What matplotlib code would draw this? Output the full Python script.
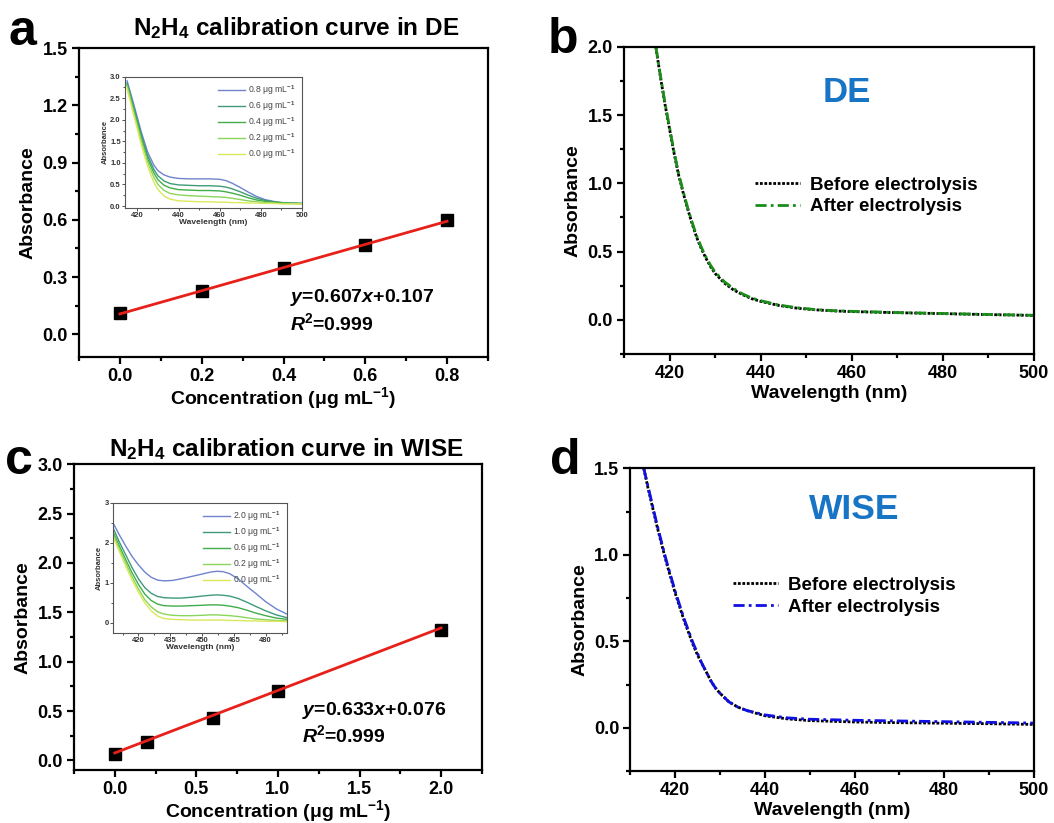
import numpy as np
import matplotlib
matplotlib.use("Agg")
import matplotlib.pyplot as plt
from matplotlib.ticker import MultipleLocator, FormatStrFormatter

plt.rcParams['font.family'] = ['Liberation Sans', 'DejaVu Sans']
plt.rcParams['mathtext.fontset'] = 'custom'
plt.rcParams['mathtext.rm'] = 'Liberation Sans'
plt.rcParams['mathtext.bf'] = 'Liberation Sans:bold'
plt.rcParams['mathtext.it'] = 'Liberation Sans:italic'
plt.rcParams['mathtext.bfit'] = 'Liberation Sans:bold:italic'

# calibration points
conc_de = [0.0, 0.2, 0.4, 0.6, 0.8]
abs_de = [0.110, 0.225, 0.345, 0.470, 0.600]
slope_de, icpt_de = 0.607, 0.107

conc_wise = [0.0, 0.2, 0.6, 1.0, 2.0]
abs_wise = [0.065, 0.185, 0.425, 0.700, 1.320]
slope_wise, icpt_wise = 0.633, 0.076

# inset spectra (a)
wl_ia = [415, 418, 420, 422, 425, 428, 430, 433, 436, 440, 445, 450, 455, 460, 463, 466, 470, 474, 478, 482, 486, 490, 495, 500]
ia_labels = ['0.8 μg mL$^{\\mathbf{-1}}$', '0.6 μg mL$^{\\mathbf{-1}}$', '0.4 μg mL$^{\\mathbf{-1}}$',
             '0.2 μg mL$^{\\mathbf{-1}}$', '0.0 μg mL$^{\\mathbf{-1}}$']
ia_08 = [2.90, 2.40, 2.05, 1.70, 1.25, 0.95, 0.82, 0.72, 0.67, 0.64, 0.63, 0.63, 0.63, 0.62, 0.59, 0.53, 0.43, 0.32, 0.22, 0.15, 0.11, 0.08, 0.07, 0.06]
ia_06 = [2.85, 2.33, 1.98, 1.63, 1.17, 0.85, 0.70, 0.58, 0.52, 0.49, 0.48, 0.47, 0.47, 0.46, 0.44, 0.40, 0.33, 0.25, 0.18, 0.13, 0.10, 0.08, 0.07, 0.06]
ia_04 = [2.82, 2.28, 1.93, 1.57, 1.10, 0.77, 0.61, 0.48, 0.42, 0.38, 0.37, 0.36, 0.36, 0.35, 0.33, 0.30, 0.25, 0.19, 0.14, 0.11, 0.09, 0.07, 0.06, 0.06]
ia_02 = [2.78, 2.22, 1.86, 1.50, 1.02, 0.67, 0.50, 0.36, 0.29, 0.26, 0.24, 0.23, 0.22, 0.21, 0.20, 0.18, 0.15, 0.12, 0.10, 0.08, 0.07, 0.06, 0.06, 0.05]
ia_00 = [2.72, 2.15, 1.78, 1.40, 0.92, 0.55, 0.38, 0.23, 0.16, 0.12, 0.11, 0.10, 0.10, 0.09, 0.09, 0.08, 0.08, 0.07, 0.07, 0.06, 0.06, 0.05, 0.05, 0.05]

# inset spectra (c)
wl_ic = [408, 411, 414, 417, 420, 423, 426, 429, 432, 436, 440, 445, 450, 454, 457, 460, 463, 467, 471, 475, 480, 485, 490]
ic_labels = ['2.0 μg mL$^{\\mathbf{-1}}$', '1.0 μg mL$^{\\mathbf{-1}}$', '0.6 μg mL$^{\\mathbf{-1}}$',
             '0.2 μg mL$^{\\mathbf{-1}}$', '0.0 μg mL$^{\\mathbf{-1}}$']
ic_20 = [2.50, 2.20, 1.92, 1.66, 1.45, 1.27, 1.14, 1.07, 1.05, 1.06, 1.10, 1.16, 1.22, 1.27, 1.29, 1.28, 1.23, 1.10, 0.92, 0.75, 0.53, 0.35, 0.22]
ic_10 = [2.38, 2.02, 1.70, 1.38, 1.10, 0.88, 0.74, 0.66, 0.63, 0.62, 0.62, 0.64, 0.67, 0.69, 0.70, 0.69, 0.67, 0.61, 0.52, 0.42, 0.30, 0.20, 0.13]
ic_06 = [2.28, 1.92, 1.58, 1.25, 0.96, 0.72, 0.56, 0.47, 0.43, 0.42, 0.42, 0.43, 0.44, 0.45, 0.45, 0.44, 0.42, 0.38, 0.32, 0.25, 0.18, 0.12, 0.09]
ic_02 = [2.22, 1.85, 1.50, 1.15, 0.85, 0.58, 0.40, 0.28, 0.22, 0.19, 0.18, 0.18, 0.19, 0.20, 0.20, 0.19, 0.18, 0.16, 0.13, 0.10, 0.08, 0.06, 0.05]
ic_00 = [2.16, 1.78, 1.42, 1.07, 0.77, 0.50, 0.30, 0.17, 0.11, 0.09, 0.08, 0.07, 0.07, 0.07, 0.07, 0.07, 0.06, 0.06, 0.05, 0.05, 0.04, 0.04, 0.03]

inset_colors = ['#6f83cf', '#3f9a78', '#41ad4a', '#8ad65a', '#dbe85a']

# electrolysis spectra
wl_b = [417, 418, 419, 420, 421, 422, 423, 424, 425, 426, 427, 428, 429, 430, 432, 434, 436, 438, 440, 444, 448, 452, 456, 460, 470, 480, 490, 500]
de_before = [2.00, 1.78, 1.58, 1.40, 1.22, 1.06, 0.93, 0.81, 0.70, 0.60, 0.52, 0.45, 0.39, 0.34, 0.27, 0.22, 0.185, 0.155, 0.135, 0.105, 0.085, 0.073, 0.065, 0.060, 0.052, 0.045, 0.038, 0.032]
de_after = [2.00, 1.79, 1.59, 1.41, 1.23, 1.07, 0.94, 0.82, 0.71, 0.61, 0.53, 0.46, 0.40, 0.35, 0.28, 0.23, 0.19, 0.16, 0.14, 0.108, 0.088, 0.075, 0.067, 0.062, 0.053, 0.046, 0.039, 0.033]

wl_d = [413, 414, 415, 416, 417, 418, 419, 420, 421, 422, 423, 424, 425, 426, 427, 428, 429, 430, 432, 434, 436, 438, 440, 445, 450, 460, 470, 480, 490, 500]
wise_before = [1.50, 1.38, 1.27, 1.16, 1.06, 0.96, 0.87, 0.78, 0.70, 0.62, 0.55, 0.48, 0.42, 0.37, 0.32, 0.27, 0.23, 0.20, 0.15, 0.12, 0.10, 0.085, 0.070, 0.052, 0.042, 0.034, 0.030, 0.027, 0.024, 0.020]
wise_after = [1.50, 1.39, 1.28, 1.17, 1.07, 0.97, 0.88, 0.79, 0.71, 0.63, 0.56, 0.49, 0.43, 0.37, 0.32, 0.27, 0.23, 0.20, 0.15, 0.12, 0.10, 0.088, 0.075, 0.058, 0.050, 0.044, 0.040, 0.036, 0.032, 0.028]

fig = plt.figure(figsize=(10.54, 8.23), dpi=100)


def style_axes(ax, fs=13, lw=1.6, ml=5):
    for s in ax.spines.values():
        s.set_linewidth(lw)
    ax.tick_params(which='major', direction='out', length=ml, width=lw, labelsize=fs,
                   top=False, right=False, pad=3)
    ax.tick_params(which='minor', direction='out', length=ml * 0.6, width=lw, top=False, right=False)
    for lab in ax.get_xticklabels() + ax.get_yticklabels():
        lab.set_fontweight('bold')


def calib_panel(rect, x, y, slope, icpt, xlim, ylim, xmaj, ymaj, eq_pos):
    ax = fig.add_axes(rect)
    ax.plot(x, y, 's', color='black', markersize=9, zorder=3)
    xf = np.array([x[0], x[-1]])
    ax.plot(xf, slope * xf + icpt, color='#e8201a', lw=2, zorder=4)
    ax.set_xlim(xlim)
    ax.set_ylim(ylim)
    ax.xaxis.set_major_locator(MultipleLocator(xmaj))
    ax.xaxis.set_minor_locator(MultipleLocator(xmaj / 2))
    ax.yaxis.set_major_locator(MultipleLocator(ymaj))
    ax.yaxis.set_minor_locator(MultipleLocator(ymaj / 2))
    ax.xaxis.set_major_formatter(FormatStrFormatter('%.1f'))
    ax.yaxis.set_major_formatter(FormatStrFormatter('%.1f'))
    style_axes(ax)
    ax.set_xlabel('Concentration (μg mL$^{\\mathbf{-1}}$)', fontsize=14, fontweight='bold', labelpad=0)
    ax.set_ylabel('Absorbance', fontsize=14, fontweight='bold', labelpad=4)
    ax.text(eq_pos[0], eq_pos[1], '$\\mathbfit{y}$=%.3f$\\mathbfit{x}$+%.3f' % (slope, icpt),
            transform=ax.transAxes, fontsize=14, fontweight='bold')
    ax.text(eq_pos[0], eq_pos[1] - 0.091, '$\\mathbfit{R}^{\\mathbf{2}}$=0.999',
            transform=ax.transAxes, fontsize=14, fontweight='bold')
    return ax


def inset_panel(rect, wl, curves, labels, xlim, ylim, xticks, yticks, yfmt):
    ax = fig.add_axes(rect)
    for c, lab, col in zip(curves, labels, inset_colors):
        ax.plot(wl, c, color=col, lw=1.0, label=lab)
    ax.set_xlim(xlim)
    ax.set_ylim(ylim)
    ax.set_xticks(xticks)
    ax.set_yticks(yticks)
    ax.yaxis.set_major_formatter(FormatStrFormatter(yfmt))
    ax.xaxis.set_minor_locator(MultipleLocator((xticks[1] - xticks[0]) / 2))
    ax.yaxis.set_minor_locator(MultipleLocator((yticks[1] - yticks[0]) / 2))
    for s in ax.spines.values():
        s.set_linewidth(0.8)
        s.set_color('#555555')
    ax.tick_params(which='both', direction='out', length=2, width=0.6, labelsize=5.5,
                   pad=1, colors='#333333')
    ax.tick_params(which='minor', length=1.2)
    for lab in ax.get_xticklabels() + ax.get_yticklabels():
        lab.set_fontweight('bold')
    ax.set_xlabel('Wavelength (nm)', fontsize=6, fontweight='bold', labelpad=0, color='#333333')
    ax.set_ylabel('Absorbance', fontsize=5.5, fontweight='bold', labelpad=1, color='#333333')
    leg = ax.legend(loc='upper right', frameon=False, fontsize=6.2, handlelength=3.2,
                    handletextpad=0.3, labelspacing=0.25, borderaxespad=0.4)
    for t in leg.get_texts():
        t.set_color('#444444')
    return ax


def spec_panel(rect, wl, before, after, col, ylim, ymaj, name, name_pos, name_fs, leg_anchor):
    ax = fig.add_axes(rect)
    ax.plot(wl, before, color='black', lw=2, ls=(0, (1, 0.6)), label='Before electrolysis')
    ax.plot(wl, after, color=col, lw=2, ls=(0, (4, 1.5, 1, 1.5)), label='After electrolysis')
    ax.set_xlim(410, 500)
    ax.set_ylim(ylim)
    ax.xaxis.set_major_locator(MultipleLocator(20))
    ax.xaxis.set_minor_locator(MultipleLocator(10))
    ax.yaxis.set_major_locator(MultipleLocator(ymaj))
    ax.yaxis.set_minor_locator(MultipleLocator(ymaj / 2))
    ax.yaxis.set_major_formatter(FormatStrFormatter('%.1f'))
    style_axes(ax)
    ax.set_xlabel('Wavelength (nm)', fontsize=14, fontweight='bold', labelpad=2)
    ax.set_ylabel('Absorbance', fontsize=14, fontweight='bold', labelpad=4)
    ax.text(name_pos[0], name_pos[1], name, transform=ax.transAxes, fontsize=name_fs,
            fontweight='bold', color='#1874c4', ha='center', va='center')
    leg = ax.legend(loc='upper left', bbox_to_anchor=leg_anchor, frameon=False, fontsize=13.5,
                    handlelength=2.4, handletextpad=0.5, labelspacing=0.25, borderpad=0,
                    borderaxespad=0)
    for t in leg.get_texts():
        t.set_fontweight('bold')
    return ax


calib_panel([0.075, 0.566, 0.388, 0.3755], conc_de, abs_de, slope_de, icpt_de,
            (-0.1, 0.9), (-0.12, 1.5), 0.2, 0.3, (0.516, 0.178))
inset_panel([0.1186, 0.747, 0.168, 0.160], wl_ia, [ia_08, ia_06, ia_04, ia_02, ia_00], ia_labels,
            (414, 500), (-0.05, 3.0), [420, 440, 460, 480, 500], [0, 0.5, 1.0, 1.5, 2.0, 2.5, 3.0], '%.1f')

calib_panel([0.0702, 0.064, 0.387, 0.372], conc_wise, abs_wise, slope_wise, icpt_wise,
            (-0.25, 2.25), (-0.1, 3.0), 0.5, 0.5, (0.559, 0.182))
inset_panel([0.1072, 0.231, 0.165, 0.158], wl_ic, [ic_20, ic_10, ic_06, ic_02, ic_00], ic_labels,
            (408, 490), (-0.25, 3.0), [420, 435, 450, 465, 480], [0, 1, 2, 3], '%d')

spec_panel([0.592, 0.570, 0.389, 0.373], wl_b, de_before, de_after, '#1a8c1a',
           (-0.25, 2.0), 0.5, 'DE', (0.544, 0.853), 25, (0.32, 0.578))
spec_panel([0.598, 0.063, 0.383, 0.368], wl_d, wise_before, wise_after, '#1010e0',
           (-0.25, 1.5), 0.5, 'WISE', (0.554, 0.865), 25.5, (0.255, 0.642))

# titles and panel letters
fig.text(0.281, 0.957, 'N$_\\mathbf{2}$H$_\\mathbf{4}$ calibration curve in DE', fontsize=17.5,
         fontweight='bold', ha='center', va='baseline')
fig.text(0.272, 0.446, 'N$_\\mathbf{2}$H$_\\mathbf{4}$ calibration curve in WISE', fontsize=17.5,
         fontweight='bold', ha='center', va='baseline')
for lx, ly, letter in [(0.008, 0.945, 'a'), (0.520, 0.936, 'b'), (0.005, 0.424, 'c'), (0.522, 0.424, 'd')]:
    fig.text(lx, ly, letter, fontsize=36, fontweight='bold', va='baseline')

fig.savefig('out.png', dpi=100)
